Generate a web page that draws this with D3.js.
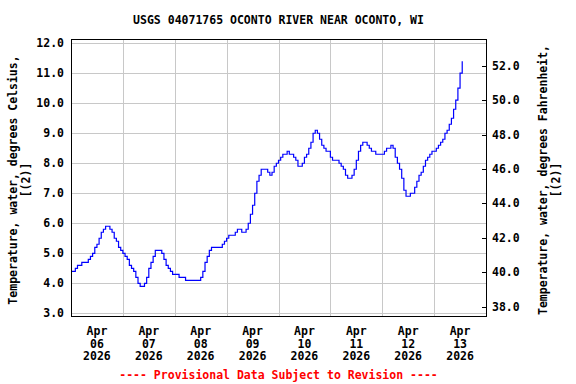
<!DOCTYPE html>
<html>
<head>
<meta charset="utf-8">
<script src="https://cdn.jsdelivr.net/npm/d3@7"></script>
<style>
  body { margin: 0; background: #fff; }
  text { font-family: "DejaVu Sans Mono", monospace; font-weight: bold; font-size: 11.5px; fill: #000; }
</style>
</head>
<body>
<svg id="chart" width="576" height="384"></svg>
<script>
// hourly water temperature (deg C), one array per day starting at 00:00
const apr06 = [4.4, 4.4, 4.5, 4.6, 4.6, 4.7, 4.7, 4.7, 4.8, 4.9, 5.0, 5.2, 5.3, 5.5, 5.7, 5.8, 5.9, 5.9, 5.8, 5.7, 5.5, 5.4, 5.2, 5.1];
const apr07 = [5.0, 4.9, 4.8, 4.6, 4.5, 4.4, 4.2, 4.0, 3.9, 3.9, 4.0, 4.2, 4.5, 4.7, 4.9, 5.1, 5.1, 5.1, 5.0, 4.8, 4.6, 4.5, 4.4, 4.3];
const apr08 = [4.3, 4.3, 4.2, 4.2, 4.2, 4.1, 4.1, 4.1, 4.1, 4.1, 4.1, 4.1, 4.2, 4.4, 4.7, 4.9, 5.1, 5.2, 5.2, 5.2, 5.2, 5.2, 5.3, 5.4];
const apr09 = [5.5, 5.6, 5.6, 5.6, 5.7, 5.8, 5.8, 5.7, 5.7, 5.8, 6.0, 6.3, 6.6, 7.0, 7.4, 7.6, 7.8, 7.8, 7.8, 7.7, 7.6, 7.7, 7.9, 8.0];
const apr10 = [8.1, 8.2, 8.3, 8.3, 8.4, 8.3, 8.3, 8.2, 8.1, 7.9, 7.9, 8.0, 8.2, 8.3, 8.5, 8.7, 9.0, 9.1, 9.0, 8.8, 8.6, 8.5, 8.4, 8.4];
const apr11 = [8.2, 8.1, 8.1, 8.1, 8.0, 7.9, 7.8, 7.6, 7.5, 7.5, 7.6, 7.8, 8.1, 8.4, 8.6, 8.7, 8.7, 8.6, 8.5, 8.4, 8.4, 8.3, 8.3, 8.3];
const apr12 = [8.3, 8.4, 8.5, 8.5, 8.6, 8.5, 8.2, 8.0, 7.8, 7.5, 7.1, 6.9, 6.9, 7.0, 7.0, 7.2, 7.4, 7.6, 7.7, 7.9, 8.1, 8.2, 8.3, 8.4];
const apr13 = [8.4, 8.5, 8.6, 8.7, 8.8, 9.0, 9.1, 9.3, 9.5, 9.8, 10.1, 10.5, 11.0, 11.4];

const days = [apr06, apr07, apr08, apr09, apr10, apr11, apr12, apr13];
const dayStarts = ["2026-04-06", "2026-04-07", "2026-04-08", "2026-04-09", "2026-04-10", "2026-04-11", "2026-04-12", "2026-04-13"];
const xDomain = ["2026-04-06", "2026-04-14"];

const celsiusTicks = [3, 4, 5, 6, 7, 8, 9, 10, 11, 12];
const celsiusDomain = [2.91, 12.14];
const fahrenheitTicks = [38, 40, 42, 44, 46, 48, 50, 52];
const fahrenheitDomain = [37.45, 53.57];

const title = "USGS 04071765 OCONTO RIVER NEAR OCONTO, WI";
const leftTitle = ["Temperature, water, degrees Celsius,", "[(2)]"];
const rightTitle = ["Temperature, water, degrees Fahrenheit,", "[(2)]"];
const footer = "---- Provisional Data Subject to Revision ----";

const parseDay = d3.utcParse("%Y-%m-%d");
const data = [];
days.forEach((vals, i) => {
    const t0 = parseDay(dayStarts[i]);
    vals.forEach((v, h) => data.push({ t: d3.utcHour.offset(t0, h), v: v }));
});

const svg = d3.select("#chart");
const plotLeft = 71, plotRight = 486, plotTop = 39, plotBottom = 316;

const x = d3.scaleUtc().domain(xDomain.map(parseDay)).range([plotLeft, plotRight]);
const y = d3.scaleLinear().domain(celsiusDomain).range([plotBottom, plotTop]);
const yF = d3.scaleLinear().domain(fahrenheitDomain).range([plotBottom, plotTop]);

// grid
const grid = svg.append("g")
    .attr("stroke", "#c8c8c8")
    .attr("stroke-width", 1)
    .attr("shape-rendering", "crispEdges");

grid.selectAll("line.h")
    .data(celsiusTicks)
    .enter().append("line")
    .attr("x1", plotLeft).attr("x2", plotRight)
    .attr("y1", d => Math.round(y(d)) + 0.5)
    .attr("y2", d => Math.round(y(d)) + 0.5);

const midnights = d3.utcDay.range(x.domain()[0], x.domain()[1]).slice(1);
grid.selectAll("line.v")
    .data(midnights)
    .enter().append("line")
    .attr("y1", plotTop).attr("y2", plotBottom)
    .attr("x1", d => Math.round(x(d)) + 0.5)
    .attr("x2", d => Math.round(x(d)) + 0.5);

// data line
const line = d3.line()
    .x(d => x(d.t))
    .y(d => y(d.v))
    .curve(d3.curveStepAfter);

svg.append("path")
    .datum(data)
    .attr("fill", "none")
    .attr("stroke", "#0000ff")
    .attr("stroke-width", 1.2)
    .attr("d", line);

// frame
svg.append("rect")
    .attr("x", plotLeft + 0.5)
    .attr("y", plotTop + 0.5)
    .attr("width", plotRight - plotLeft)
    .attr("height", plotBottom - plotTop)
    .attr("fill", "none")
    .attr("stroke", "#000")
    .attr("shape-rendering", "crispEdges");

// left axis labels
svg.append("g")
    .selectAll("text")
    .data(celsiusTicks)
    .enter().append("text")
    .attr("x", 64)
    .attr("y", d => y(d))
    .attr("dy", "0.35em")
    .attr("text-anchor", "end")
    .text(d => d.toFixed(1));

// right axis ticks + labels
const rightAxis = svg.append("g");
rightAxis.selectAll("line")
    .data(fahrenheitTicks)
    .enter().append("line")
    .attr("x1", plotRight - 4).attr("x2", plotRight)
    .attr("y1", d => Math.round(yF(d)) + 0.5)
    .attr("y2", d => Math.round(yF(d)) + 0.5)
    .attr("stroke", "#000")
    .attr("shape-rendering", "crispEdges");

rightAxis.selectAll("text")
    .data(fahrenheitTicks)
    .enter().append("text")
    .attr("x", 492)
    .attr("y", d => yF(d))
    .attr("dy", "0.35em")
    .text(d => d.toFixed(1));

// x labels at noon of each day
const noonLabels = svg.append("g")
    .selectAll("text")
    .data(dayStarts.map(parseDay))
    .enter().append("text")
    .attr("text-anchor", "middle")
    .attr("transform", d => `translate(${x(d3.utcHour.offset(d, 12))},335)`);

noonLabels.append("tspan").attr("x", 0).attr("dy", 0).text(d3.utcFormat("%b"));
noonLabels.append("tspan").attr("x", 0).attr("dy", 12.5).text(d3.utcFormat("%d"));
noonLabels.append("tspan").attr("x", 0).attr("dy", 12.5).text(d3.utcFormat("%Y"));

// titles
svg.append("text")
    .attr("x", (plotLeft + plotRight) / 2)
    .attr("y", 24)
    .attr("text-anchor", "middle")
    .text(title);

svg.append("text")
    .attr("x", (plotLeft + plotRight) / 2)
    .attr("y", 379)
    .attr("text-anchor", "middle")
    .style("fill", "#ff0000")
    .text(footer);

function axisTitle(lines, cx, cy) {
    const t = svg.append("text")
        .attr("text-anchor", "middle")
        .attr("transform", `translate(${cx},${cy}) rotate(-90)`);
    lines.forEach((s, i) => {
        t.append("tspan")
            .attr("x", 0)
            .attr("dy", i === 0 ? 0 : 12.5)
            .text(s);
    });
}

axisTitle(leftTitle, 17, 180);
axisTitle(rightTitle, 547, 180);
</script>
</body>
</html>
